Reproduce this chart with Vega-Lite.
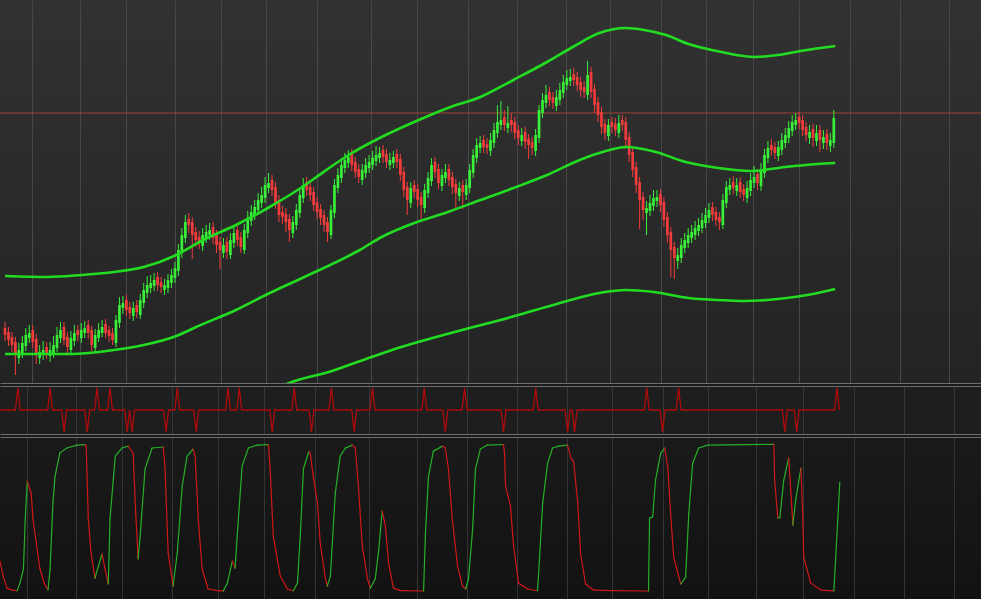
{
"$schema": "https://vega.github.io/schema/vega-lite/v6.json",
"background": "#1b1b1b",
"padding": 0,
"spacing": 3,
"bounds": "flush",
"config": {"view": {"stroke": null}, "axis": {"labels": false, "ticks": false, "domain": false, "minExtent": 0, "maxExtent": 0, "offset": 0, "labelPadding": 0, "tickSize": 0, "titlePadding": 0}},
"datasets": {
"candles": [
{"i":0,"o":105.5,"h":106.1,"l":104.2,"c":104.8},{"i":1,"o":105.1,"h":105.6,"l":103.7,"c":104.3},{"i":2,"o":104.6,"h":105.1,"l":103.1,"c":103.8},{"i":3,"o":104.1,"h":104.6,"l":100.8,"c":102.8},{"i":4,"o":102.5,"h":104.0,"l":101.9,"c":103.3},{"i":5,"o":103.0,"h":104.7,"l":102.5,"c":104.0},{"i":6,"o":103.7,"h":105.5,"l":103.2,"c":104.8},{"i":7,"o":104.5,"h":105.8,"l":104.0,"c":105.0},{"i":8,"o":105.3,"h":105.8,"l":103.5,"c":104.1},{"i":9,"o":104.4,"h":104.9,"l":101.9,"c":102.8},
{"i":10,"o":102.5,"h":103.8,"l":101.9,"c":103.1},{"i":11,"o":102.8,"h":104.2,"l":102.3,"c":103.3},{"i":12,"o":103.6,"h":104.1,"l":102.4,"c":103.0},{"i":13,"o":102.7,"h":104.1,"l":102.1,"c":103.3},{"i":14,"o":103.0,"h":104.7,"l":102.5,"c":103.8},{"i":15,"o":103.5,"h":105.6,"l":103.1,"c":104.8},{"i":16,"o":104.5,"h":106.1,"l":104.0,"c":105.3},{"i":17,"o":105.6,"h":106.1,"l":103.8,"c":104.3},{"i":18,"o":104.6,"h":105.1,"l":103.0,"c":103.6},{"i":19,"o":103.3,"h":105.2,"l":102.8,"c":104.5},
{"i":20,"o":104.2,"h":105.8,"l":103.7,"c":105.0},{"i":21,"o":105.3,"h":105.8,"l":104.2,"c":104.8},{"i":22,"o":104.5,"h":106.0,"l":104.0,"c":105.3},{"i":23,"o":105.0,"h":106.2,"l":104.5,"c":105.5},{"i":24,"o":105.8,"h":106.3,"l":104.4,"c":105.0},{"i":25,"o":105.3,"h":105.7,"l":103.2,"c":103.8},{"i":26,"o":103.5,"h":105.4,"l":103.1,"c":104.8},{"i":27,"o":104.5,"h":106.0,"l":104.1,"c":105.3},{"i":28,"o":105.0,"h":106.3,"l":104.6,"c":105.6},{"i":29,"o":105.9,"h":106.4,"l":104.5,"c":105.0},
{"i":30,"o":105.3,"h":105.7,"l":104.1,"c":104.7},{"i":31,"o":105.0,"h":105.5,"l":103.8,"c":104.3},{"i":32,"o":104.0,"h":106.8,"l":103.6,"c":106.3},{"i":33,"o":106.0,"h":108.6,"l":105.5,"c":107.8},{"i":34,"o":107.5,"h":108.7,"l":106.9,"c":108.0},{"i":35,"o":108.3,"h":108.8,"l":106.7,"c":107.3},{"i":36,"o":107.6,"h":108.1,"l":106.4,"c":107.0},{"i":37,"o":106.7,"h":108.1,"l":106.2,"c":107.5},{"i":38,"o":107.8,"h":108.3,"l":106.5,"c":107.1},{"i":39,"o":106.8,"h":108.9,"l":106.4,"c":108.3},
{"i":40,"o":108.0,"h":110.0,"l":107.5,"c":109.3},{"i":41,"o":109.0,"h":110.7,"l":108.5,"c":109.8},{"i":42,"o":109.5,"h":110.8,"l":109.0,"c":110.0},{"i":43,"o":109.7,"h":111.0,"l":109.2,"c":110.3},{"i":44,"o":110.6,"h":111.1,"l":109.2,"c":109.8},{"i":45,"o":110.1,"h":110.6,"l":109.0,"c":109.6},{"i":46,"o":109.3,"h":110.4,"l":108.8,"c":109.8},{"i":47,"o":109.5,"h":110.9,"l":109.0,"c":110.3},{"i":48,"o":110.0,"h":111.4,"l":109.5,"c":110.8},{"i":49,"o":110.5,"h":112.1,"l":110.0,"c":111.5},
{"i":50,"o":111.2,"h":113.9,"l":110.7,"c":113.3},{"i":51,"o":113.0,"h":115.5,"l":112.5,"c":114.8},{"i":52,"o":114.5,"h":116.8,"l":114.0,"c":116.1},{"i":53,"o":116.4,"h":117.0,"l":115.0,"c":115.8},{"i":54,"o":116.1,"h":116.6,"l":112.4,"c":114.8},{"i":55,"o":115.1,"h":115.6,"l":113.6,"c":114.3},{"i":56,"o":114.6,"h":115.2,"l":113.4,"c":114.0},{"i":57,"o":113.7,"h":115.5,"l":113.2,"c":114.8},{"i":58,"o":114.5,"h":115.8,"l":114.0,"c":115.1},{"i":59,"o":114.8,"h":116.0,"l":114.3,"c":115.3},
{"i":60,"o":115.6,"h":116.1,"l":113.9,"c":114.5},{"i":61,"o":114.8,"h":115.3,"l":113.0,"c":113.8},{"i":62,"o":114.1,"h":114.6,"l":111.4,"c":113.3},{"i":63,"o":113.0,"h":114.5,"l":112.5,"c":113.8},{"i":64,"o":114.1,"h":114.6,"l":112.4,"c":113.1},{"i":65,"o":112.8,"h":115.0,"l":112.4,"c":114.3},{"i":66,"o":114.0,"h":115.7,"l":113.5,"c":115.0},{"i":67,"o":115.3,"h":115.8,"l":113.7,"c":114.3},{"i":68,"o":114.6,"h":115.1,"l":113.0,"c":113.6},{"i":69,"o":113.3,"h":115.9,"l":112.9,"c":115.3},
{"i":70,"o":115.0,"h":117.2,"l":114.5,"c":116.5},{"i":71,"o":116.2,"h":117.8,"l":115.7,"c":117.1},{"i":72,"o":116.8,"h":118.3,"l":116.3,"c":117.6},{"i":73,"o":117.3,"h":119.0,"l":116.8,"c":118.3},{"i":74,"o":118.0,"h":119.6,"l":117.5,"c":118.8},{"i":75,"o":118.5,"h":120.6,"l":118.0,"c":119.8},{"i":76,"o":119.5,"h":121.0,"l":119.0,"c":120.0},{"i":77,"o":120.3,"h":120.8,"l":118.7,"c":119.3},{"i":78,"o":119.6,"h":120.1,"l":117.4,"c":118.0},{"i":79,"o":118.3,"h":118.8,"l":116.1,"c":116.8},
{"i":80,"o":117.1,"h":117.7,"l":115.9,"c":116.6},{"i":81,"o":116.9,"h":117.5,"l":115.1,"c":116.1},{"i":82,"o":116.4,"h":116.9,"l":114.1,"c":115.3},{"i":83,"o":115.0,"h":116.7,"l":114.5,"c":116.1},{"i":84,"o":115.8,"h":117.9,"l":115.3,"c":117.3},{"i":85,"o":117.0,"h":119.4,"l":116.5,"c":118.8},{"i":86,"o":118.5,"h":120.5,"l":118.0,"c":119.8},{"i":87,"o":120.1,"h":120.6,"l":118.7,"c":119.3},{"i":88,"o":119.6,"h":120.1,"l":118.2,"c":118.8},{"i":89,"o":119.1,"h":119.6,"l":117.2,"c":117.8},
{"i":90,"o":118.1,"h":118.6,"l":116.4,"c":117.1},{"i":91,"o":117.4,"h":117.9,"l":115.8,"c":116.5},{"i":92,"o":116.8,"h":117.3,"l":115.1,"c":115.8},{"i":93,"o":116.1,"h":116.6,"l":114.1,"c":115.1},{"i":94,"o":114.8,"h":117.8,"l":114.4,"c":117.3},{"i":95,"o":117.0,"h":120.4,"l":116.5,"c":119.8},{"i":96,"o":119.5,"h":121.5,"l":119.0,"c":120.8},{"i":97,"o":120.5,"h":122.5,"l":120.0,"c":121.8},{"i":98,"o":121.5,"h":123.0,"l":121.0,"c":122.3},{"i":99,"o":122.0,"h":123.3,"l":121.5,"c":122.6},
{"i":100,"o":122.9,"h":123.4,"l":121.2,"c":121.8},{"i":101,"o":122.1,"h":122.6,"l":120.5,"c":121.1},{"i":102,"o":121.4,"h":121.9,"l":120.0,"c":120.6},{"i":103,"o":120.3,"h":121.9,"l":119.8,"c":121.3},{"i":104,"o":121.0,"h":122.5,"l":120.5,"c":121.8},{"i":105,"o":121.5,"h":122.8,"l":121.0,"c":122.1},{"i":106,"o":121.8,"h":123.2,"l":121.3,"c":122.5},{"i":107,"o":122.2,"h":123.7,"l":121.7,"c":122.8},{"i":108,"o":122.5,"h":123.6,"l":122.0,"c":123.0},{"i":109,"o":123.3,"h":123.8,"l":122.0,"c":122.6},
{"i":110,"o":122.9,"h":123.4,"l":121.5,"c":122.1},{"i":111,"o":121.8,"h":123.0,"l":121.3,"c":122.3},{"i":112,"o":122.0,"h":123.2,"l":121.5,"c":122.6},{"i":113,"o":122.9,"h":123.4,"l":121.5,"c":122.1},{"i":114,"o":122.4,"h":122.9,"l":120.2,"c":120.8},{"i":115,"o":121.1,"h":121.6,"l":118.6,"c":119.3},{"i":116,"o":119.6,"h":120.1,"l":116.8,"c":118.3},{"i":117,"o":118.0,"h":120.1,"l":117.5,"c":119.5},{"i":118,"o":119.8,"h":120.3,"l":118.5,"c":119.1},{"i":119,"o":119.4,"h":119.9,"l":117.6,"c":118.3},
{"i":120,"o":118.6,"h":119.1,"l":116.4,"c":117.8},{"i":121,"o":117.5,"h":119.9,"l":117.0,"c":119.3},{"i":122,"o":119.0,"h":121.1,"l":118.5,"c":120.5},{"i":123,"o":120.2,"h":122.5,"l":119.7,"c":121.8},{"i":124,"o":122.1,"h":122.6,"l":120.5,"c":121.1},{"i":125,"o":121.4,"h":121.9,"l":119.4,"c":120.0},{"i":126,"o":119.7,"h":121.4,"l":119.2,"c":120.8},{"i":127,"o":120.5,"h":121.9,"l":120.0,"c":121.1},{"i":128,"o":121.4,"h":121.9,"l":119.7,"c":120.3},{"i":129,"o":120.6,"h":121.1,"l":118.9,"c":119.6},
{"i":130,"o":119.9,"h":120.4,"l":117.4,"c":119.0},{"i":131,"o":118.7,"h":120.1,"l":118.2,"c":119.5},{"i":132,"o":119.8,"h":120.3,"l":117.4,"c":119.1},{"i":133,"o":118.8,"h":120.4,"l":118.3,"c":119.8},{"i":134,"o":119.5,"h":121.9,"l":119.0,"c":121.3},{"i":135,"o":121.0,"h":123.4,"l":120.5,"c":122.8},{"i":136,"o":122.5,"h":124.5,"l":122.0,"c":123.8},{"i":137,"o":123.5,"h":124.7,"l":123.0,"c":124.0},{"i":138,"o":124.3,"h":124.8,"l":123.0,"c":123.6},{"i":139,"o":123.9,"h":124.5,"l":122.9,"c":123.5},
{"i":140,"o":123.2,"h":125.0,"l":122.7,"c":124.3},{"i":141,"o":124.0,"h":126.0,"l":123.5,"c":125.3},{"i":142,"o":125.0,"h":127.8,"l":124.5,"c":126.1},{"i":143,"o":125.8,"h":128.2,"l":125.3,"c":126.3},{"i":144,"o":126.6,"h":127.3,"l":125.2,"c":125.8},{"i":145,"o":125.5,"h":127.7,"l":125.0,"c":126.0},{"i":146,"o":126.3,"h":127.0,"l":125.1,"c":125.8},{"i":147,"o":126.1,"h":126.6,"l":124.4,"c":125.0},{"i":148,"o":125.3,"h":125.8,"l":123.8,"c":124.5},{"i":149,"o":124.2,"h":125.5,"l":123.7,"c":124.8},
{"i":150,"o":125.1,"h":125.6,"l":123.4,"c":124.1},{"i":151,"o":124.4,"h":124.9,"l":122.4,"c":123.8},{"i":152,"o":124.1,"h":124.6,"l":122.8,"c":123.5},{"i":153,"o":123.2,"h":125.4,"l":122.7,"c":124.8},{"i":154,"o":124.5,"h":127.8,"l":124.0,"c":127.3},{"i":155,"o":127.0,"h":129.0,"l":126.5,"c":128.3},{"i":156,"o":128.0,"h":129.8,"l":127.5,"c":128.8},{"i":157,"o":129.1,"h":129.6,"l":127.7,"c":128.3},{"i":158,"o":128.6,"h":129.1,"l":127.4,"c":128.0},{"i":159,"o":127.7,"h":129.3,"l":127.2,"c":128.6},
{"i":160,"o":128.3,"h":130.0,"l":127.8,"c":129.3},{"i":161,"o":129.0,"h":130.8,"l":128.5,"c":130.1},{"i":162,"o":129.8,"h":131.3,"l":129.3,"c":130.5},{"i":163,"o":130.2,"h":131.4,"l":129.7,"c":130.6},{"i":164,"o":130.9,"h":131.5,"l":129.7,"c":130.3},{"i":165,"o":130.6,"h":131.1,"l":129.2,"c":129.8},{"i":166,"o":130.1,"h":130.6,"l":128.6,"c":129.3},{"i":167,"o":129.6,"h":130.2,"l":128.5,"c":129.1},{"i":168,"o":128.8,"h":132.2,"l":128.3,"c":130.8},{"i":169,"o":131.1,"h":131.6,"l":128.5,"c":129.1},
{"i":170,"o":129.4,"h":129.9,"l":127.0,"c":127.8},{"i":171,"o":128.1,"h":128.6,"l":126.1,"c":126.8},{"i":172,"o":127.1,"h":127.6,"l":124.9,"c":125.6},{"i":173,"o":125.9,"h":126.4,"l":124.3,"c":125.0},{"i":174,"o":124.7,"h":126.4,"l":124.2,"c":125.8},{"i":175,"o":126.1,"h":126.6,"l":125.0,"c":125.6},{"i":176,"o":125.9,"h":126.5,"l":124.7,"c":125.3},{"i":177,"o":125.0,"h":126.8,"l":124.5,"c":126.0},{"i":178,"o":126.3,"h":126.8,"l":125.2,"c":125.8},{"i":179,"o":126.1,"h":126.6,"l":123.7,"c":124.3},
{"i":180,"o":124.6,"h":125.1,"l":122.1,"c":122.8},{"i":181,"o":123.1,"h":123.6,"l":120.6,"c":121.3},{"i":182,"o":121.6,"h":122.1,"l":119.0,"c":119.8},{"i":183,"o":120.1,"h":120.6,"l":115.4,"c":118.3},{"i":184,"o":118.6,"h":119.1,"l":116.3,"c":117.3},{"i":185,"o":117.0,"h":118.2,"l":114.8,"c":117.5},{"i":186,"o":117.2,"h":118.8,"l":116.7,"c":118.0},{"i":187,"o":117.7,"h":119.3,"l":117.2,"c":118.5},{"i":188,"o":118.2,"h":119.3,"l":117.6,"c":118.6},{"i":189,"o":118.9,"h":119.4,"l":117.1,"c":117.8},
{"i":190,"o":118.1,"h":118.6,"l":115.6,"c":116.3},{"i":191,"o":116.6,"h":117.1,"l":114.0,"c":114.8},{"i":192,"o":115.1,"h":115.6,"l":110.6,"c":113.3},{"i":193,"o":113.6,"h":114.1,"l":110.4,"c":112.5},{"i":194,"o":112.2,"h":113.5,"l":111.4,"c":112.8},{"i":195,"o":112.5,"h":114.5,"l":112.0,"c":113.8},{"i":196,"o":113.5,"h":115.0,"l":113.0,"c":114.3},{"i":197,"o":114.0,"h":115.5,"l":113.5,"c":114.8},{"i":198,"o":114.5,"h":115.8,"l":114.0,"c":115.1},{"i":199,"o":114.8,"h":116.2,"l":114.3,"c":115.5},
{"i":200,"o":115.2,"h":116.5,"l":114.7,"c":115.8},{"i":201,"o":115.5,"h":117.0,"l":115.0,"c":116.3},{"i":202,"o":116.0,"h":117.5,"l":115.5,"c":116.8},{"i":203,"o":116.5,"h":118.0,"l":116.0,"c":117.3},{"i":204,"o":117.6,"h":118.1,"l":116.2,"c":116.8},{"i":205,"o":117.1,"h":117.6,"l":115.7,"c":116.3},{"i":206,"o":116.6,"h":117.1,"l":115.3,"c":116.1},{"i":207,"o":115.8,"h":118.9,"l":115.4,"c":118.3},{"i":208,"o":118.0,"h":120.2,"l":117.5,"c":119.6},{"i":209,"o":119.3,"h":120.5,"l":118.8,"c":119.8},
{"i":210,"o":120.1,"h":120.7,"l":118.9,"c":119.5},{"i":211,"o":119.2,"h":120.5,"l":118.7,"c":119.8},{"i":212,"o":120.1,"h":120.6,"l":118.5,"c":119.1},{"i":213,"o":119.4,"h":119.9,"l":118.2,"c":118.8},{"i":214,"o":118.5,"h":120.2,"l":118.0,"c":119.5},{"i":215,"o":119.2,"h":121.0,"l":118.7,"c":120.3},{"i":216,"o":120.0,"h":121.7,"l":119.5,"c":120.6},{"i":217,"o":120.9,"h":121.4,"l":119.3,"c":120.0},{"i":218,"o":119.7,"h":122.0,"l":119.2,"c":121.3},{"i":219,"o":121.0,"h":123.4,"l":120.5,"c":122.8},
{"i":220,"o":122.5,"h":124.2,"l":122.0,"c":123.5},{"i":221,"o":123.8,"h":124.4,"l":122.7,"c":123.3},{"i":222,"o":123.6,"h":124.1,"l":122.4,"c":123.0},{"i":223,"o":122.7,"h":124.2,"l":122.2,"c":123.6},{"i":224,"o":123.3,"h":125.0,"l":122.8,"c":124.3},{"i":225,"o":124.0,"h":125.5,"l":123.5,"c":124.8},{"i":226,"o":124.5,"h":126.2,"l":124.0,"c":125.5},{"i":227,"o":125.2,"h":126.8,"l":124.7,"c":126.1},{"i":228,"o":125.8,"h":127.0,"l":125.3,"c":126.3},{"i":229,"o":126.6,"h":127.1,"l":125.4,"c":126.0},
{"i":230,"o":126.3,"h":126.8,"l":124.7,"c":125.3},{"i":231,"o":125.6,"h":126.1,"l":124.2,"c":124.8},{"i":232,"o":124.5,"h":125.8,"l":123.9,"c":125.1},{"i":233,"o":125.4,"h":125.9,"l":123.6,"c":124.5},{"i":234,"o":124.2,"h":125.8,"l":123.7,"c":125.0},{"i":235,"o":125.3,"h":125.8,"l":123.1,"c":124.3},{"i":236,"o":124.0,"h":125.3,"l":123.4,"c":124.6},{"i":237,"o":124.9,"h":125.4,"l":123.3,"c":124.0},{"i":238,"o":123.7,"h":125.0,"l":123.1,"c":124.3},{"i":239,"o":124.0,"h":127.3,"l":123.5,"c":126.5}
],
"bands": [
{"b":"u","t":0,"p":110.7},{"b":"u","t":12.3,"p":110.6},{"b":"u","t":22,"p":110.8},{"b":"u","t":31.4,"p":111.1},{"b":"u","t":40,"p":111.6},{"b":"u","t":49.4,"p":112.8},{"b":"u","t":57.1,"p":114.3},{"b":"u","t":66.6,"p":115.8},{"b":"u","t":76.3,"p":117.6},{"b":"u","t":85.7,"p":119.6},{"b":"u","t":89.4,"p":120.5},{"b":"u","t":99.1,"p":122.8},{"b":"u","t":108.6,"p":124.6},{"b":"u","t":118,"p":126.1},{"b":"u","t":127.7,"p":127.5},{"b":"u","t":137.1,"p":128.6},{"b":"u","t":146.6,"p":130.3},{"b":"u","t":156.3,"p":132.1},{"b":"u","t":163.7,"p":133.6},{"b":"u","t":171.4,"p":135.0},{"b":"u","t":179.1,"p":135.5},{"b":"u","t":184.3,"p":135.3},{"b":"u","t":190.6,"p":134.8},{"b":"u","t":197.1,"p":133.9},{"b":"u","t":206.6,"p":133.1},{"b":"u","t":216.3,"p":132.6},{"b":"u","t":222.9,"p":132.8},{"b":"u","t":229.4,"p":133.2},{"b":"u","t":239.4,"p":133.7},
{"b":"m","t":0,"p":102.9},{"b":"m","t":19.1,"p":102.9},{"b":"m","t":31.4,"p":103.3},{"b":"m","t":40,"p":103.8},{"b":"m","t":49.4,"p":104.7},{"b":"m","t":55.1,"p":105.6},{"b":"m","t":66.6,"p":107.3},{"b":"m","t":76.3,"p":109.0},{"b":"m","t":85.7,"p":110.5},{"b":"m","t":102.3,"p":113.3},{"b":"m","t":108.6,"p":114.6},{"b":"m","t":118,"p":116.0},{"b":"m","t":127.7,"p":117.1},{"b":"m","t":137.1,"p":118.3},{"b":"m","t":146.6,"p":119.5},{"b":"m","t":156.3,"p":120.8},{"b":"m","t":165.7,"p":122.3},{"b":"m","t":172.3,"p":123.1},{"b":"m","t":179.1,"p":123.6},{"b":"m","t":187.7,"p":123.1},{"b":"m","t":196.3,"p":122.1},{"b":"m","t":205.7,"p":121.5},{"b":"m","t":215.1,"p":121.2},{"b":"m","t":224.9,"p":121.6},{"b":"m","t":234.3,"p":121.9},{"b":"m","t":239.4,"p":122.0},
{"b":"d","t":74.3,"p":98.8},{"b":"d","t":82,"p":100.0},{"b":"d","t":94.3,"p":101.2},{"b":"d","t":105.7,"p":102.6},{"b":"d","t":114.3,"p":103.6},{"b":"d","t":128.6,"p":105.0},{"b":"d","t":142.9,"p":106.3},{"b":"d","t":157.1,"p":107.7},{"b":"d","t":171.4,"p":109.0},{"b":"d","t":179.1,"p":109.3},{"b":"d","t":187.1,"p":109.1},{"b":"d","t":197.1,"p":108.5},{"b":"d","t":205.7,"p":108.3},{"b":"d","t":212.9,"p":108.2},{"b":"d","t":222.9,"p":108.4},{"b":"d","t":231.4,"p":108.8},{"b":"d","t":239.4,"p":109.4}
],
"spikes": [
{"t":0,"s":0},{"t":4.4,"s":0},{"t":5.1,"s":1},{"t":5.8,"s":0},{"t":13.6,"s":0},{"t":14.3,"s":1},{"t":15,"s":0},{"t":17.6,"s":0},{"t":18.3,"s":-1},{"t":19,"s":0},{"t":24.2,"s":0},{"t":24.9,"s":-1},{"t":25.6,"s":0},{"t":27,"s":0},{"t":27.7,"s":1},{"t":28.4,"s":0},{"t":30.7,"s":0},{"t":31.4,"s":1},{"t":32.1,"s":0},{"t":35.6,"s":0},{"t":36.3,"s":-1},{"t":37,"s":0},{"t":37.7,"s":-1},{"t":38.4,"s":0},{"t":46.7,"s":0},{"t":47.4,"s":-1},{"t":48.1,"s":0},{"t":49.9,"s":0},{"t":50.6,"s":1},{"t":51.3,"s":0},{"t":55.3,"s":0},{"t":56,"s":-1},{"t":56.7,"s":0},{"t":64.4,"s":0},{"t":65.1,"s":1},{"t":65.8,"s":0},{"t":67.6,"s":0},{"t":68.3,"s":1},{"t":69,"s":0},{"t":77,"s":0},{"t":77.7,"s":-1},{"t":78.4,"s":0},{"t":83.3,"s":0},{"t":84,"s":1},{"t":84.7,"s":0},{"t":88.2,"s":0},{"t":88.9,"s":-1},{"t":89.6,"s":0},{"t":93.9,"s":0},{"t":94.6,"s":1},{"t":95.3,"s":0},{"t":100.4,"s":0},{"t":101.1,"s":-1},{"t":101.8,"s":0},{"t":105.6,"s":0},{"t":106.3,"s":1},{"t":107,"s":0},{"t":120.4,"s":0},{"t":121.1,"s":1},{"t":121.8,"s":0},{"t":126.4,"s":0},{"t":127.1,"s":-1},{"t":127.8,"s":0},{"t":131.9,"s":0},{"t":132.6,"s":1},{"t":133.3,"s":0},{"t":143,"s":0},{"t":143.7,"s":-1},{"t":144.4,"s":0},{"t":152.2,"s":0},{"t":152.9,"s":1},{"t":153.6,"s":0},{"t":161.3,"s":0},{"t":162,"s":-1},{"t":162.7,"s":0},{"t":163.3,"s":0},{"t":164,"s":-1},{"t":164.7,"s":0},{"t":183.9,"s":0},{"t":184.6,"s":1},{"t":185.3,"s":0},{"t":188.4,"s":0},{"t":189.1,"s":-1},{"t":189.8,"s":0},{"t":193,"s":0},{"t":193.7,"s":1},{"t":194.4,"s":0},{"t":223.3,"s":0},{"t":224,"s":-1},{"t":224.7,"s":0},{"t":226.7,"s":0},{"t":227.4,"s":-1},{"t":228.1,"s":0},{"t":238.2,"s":0},{"t":238.9,"s":1},{"t":239.6,"s":0}
],
"osc": [
{"t":0,"k":20.4},{"t":0.9,"k":10.2},{"t":2,"k":2},{"t":3.4,"k":0.7},{"t":4.9,"k":0.2},{"t":5.7,"k":5.4},{"t":6.7,"k":15},{"t":7.2,"k":49},{"t":7.8,"k":74.8},{"t":8.9,"k":66.7},{"t":9.4,"k":49},{"t":11.4,"k":15},{"t":12.6,"k":5.4},{"t":13.7,"k":0.7},{"t":14.3,"k":15},{"t":15.1,"k":60},{"t":15.7,"k":78},{"t":17.1,"k":94},{"t":19.1,"k":97.3},{"t":22,"k":99.3},{"t":24.3,"k":99.6},{"t":24.6,"k":98.5},{"t":25.2,"k":49},{"t":26,"k":25.9},{"t":27.1,"k":8.8},{"t":29.1,"k":25.2},{"t":30,"k":15},{"t":30.9,"k":4.8},{"t":31.4,"k":49},{"t":32.9,"k":91.8},{"t":34.8,"k":97.3},{"t":36.6,"k":98.6},{"t":38,"k":93.9},{"t":38.6,"k":60},{"t":39.4,"k":21.8},{"t":40,"k":37.4},{"t":41.4,"k":83},{"t":43.4,"k":97.3},{"t":46.6,"k":98},{"t":47.1,"k":83},{"t":48,"k":25.9},{"t":49.4,"k":3.4},{"t":50.6,"k":25.9},{"t":52,"k":71.4},{"t":53.4,"k":91.8},{"t":55.1,"k":96.6},{"t":55.7,"k":91.8},{"t":56.6,"k":49},{"t":57.7,"k":15},{"t":59.4,"k":1.4},{"t":62,"k":0.3},{"t":63.7,"k":0.1},{"t":64.9,"k":5.4},{"t":66.3,"k":20.4},{"t":67.1,"k":15.6},{"t":67.7,"k":37.4},{"t":69.1,"k":85},{"t":70.9,"k":97.3},{"t":73.4,"k":99.3},{"t":76.6,"k":99.6},{"t":77.1,"k":83},{"t":78,"k":37.4},{"t":80,"k":10.2},{"t":82,"k":1.4},{"t":83.7,"k":0.2},{"t":84.9,"k":5.4},{"t":85.7,"k":37.4},{"t":86.6,"k":83},{"t":88,"k":93.9},{"t":88.3,"k":95},{"t":88.6,"k":93},{"t":89.4,"k":78},{"t":90.6,"k":60},{"t":91.4,"k":32.7},{"t":92.9,"k":8.2},{"t":93.4,"k":3.4},{"t":94.3,"k":10.2},{"t":95.7,"k":66.7},{"t":97.1,"k":91.8},{"t":98.6,"k":97.3},{"t":100.6,"k":99.3},{"t":101.4,"k":97.3},{"t":102.3,"k":71.4},{"t":103.4,"k":30.6},{"t":104.9,"k":8.2},{"t":105.7,"k":2},{"t":107.1,"k":8.2},{"t":108,"k":25.9},{"t":109.1,"k":54.4},{"t":110,"k":44.2},{"t":110.9,"k":19},{"t":112.3,"k":2},{"t":114.3,"k":0.3},{"t":120.9,"k":0.05},{"t":121.4,"k":37.4},{"t":122.3,"k":78},{"t":123.7,"k":95.2},{"t":126.3,"k":98.6},{"t":127.1,"k":97.3},{"t":128,"k":83},{"t":129.1,"k":49},{"t":130.6,"k":17},{"t":132,"k":3.4},{"t":132.9,"k":1.4},{"t":133.7,"k":8.2},{"t":134.9,"k":42},{"t":135.7,"k":83},{"t":137.1,"k":96.6},{"t":139.1,"k":99.3},{"t":143.7,"k":99.7},{"t":144,"k":93.9},{"t":144.3,"k":71.4},{"t":145.7,"k":57.8},{"t":146.6,"k":30.6},{"t":148,"k":5.4},{"t":150.6,"k":1.4},{"t":153.4,"k":0.2},{"t":153.7,"k":10.2},{"t":154.9,"k":60},{"t":156.3,"k":87},{"t":157.7,"k":97.3},{"t":159.4,"k":98.6},{"t":162,"k":99.3},{"t":162.3,"k":96.6},{"t":163.1,"k":89.8},{"t":163.7,"k":88.4},{"t":164.9,"k":60},{"t":165.7,"k":25.9},{"t":167.1,"k":4.8},{"t":169.4,"k":0.7},{"t":174.3,"k":0.3},{"t":185.1,"k":0.05},{"t":185.4,"k":49.7},{"t":186.3,"k":50.5},{"t":187.1,"k":75.5},{"t":188.6,"k":93.9},{"t":189.7,"k":97.3},{"t":190.6,"k":84.4},{"t":191.4,"k":53},{"t":192.3,"k":23},{"t":194.3,"k":4.8},{"t":195.7,"k":9.5},{"t":196.6,"k":53},{"t":197.7,"k":87},{"t":199.4,"k":97.3},{"t":202,"k":99.3},{"t":220.9,"k":99.8},{"t":221.1,"k":75.5},{"t":222,"k":49.7},{"t":222.6,"k":50},{"t":223.7,"k":75.5},{"t":225.1,"k":90.5},{"t":225.7,"k":68.7},{"t":226.3,"k":44.9},{"t":227.1,"k":61.9},{"t":228.6,"k":83.7},{"t":229.1,"k":53},{"t":229.4,"k":23},{"t":231.4,"k":5.4},{"t":234.3,"k":0.7},{"t":238,"k":0.1},{"t":239.7,"k":74}
],
"levels": [{"level":127.0}]
},
"vconcat": [
{
"width": 981, "height": 383,
"view": {"stroke": null, "fill": {"gradient":"linear","x1":0,"y1":0,"x2":0,"y2":1,"stops":[{"offset":0,"color":"#323232"},{"offset":1,"color":"#232323"}]}},
"layer": [
{"data":{"name":"levels"},"mark":{"type":"rule","color":"#a04236","strokeWidth":1,"clip":true},
 "encoding":{"y":{"field":"level","type":"quantitative","scale":{"domain":[100,138.3],"nice":false,"zero":false},"axis":{"grid":true,"values":[100],"gridColor":"#6e6e6e","gridOpacity":1,"title":null}}}},
{"data":{"name":"candles"},"mark":{"type":"rule","strokeWidth":1,"clip":true},
 "encoding":{"x":{"field":"i","type":"quantitative","scale":{"domain":[0,280],"nice":false,"zero":false},"axis":{"grid":true,"values":[7.7,21.7,34.9,49.1,62.3,75.4,90,105.4,118.9,133.4,147.7,161.7,174.6,189.1,202,215.7,229.1,243.7,258,272.3],"gridColor":"#474747","gridOpacity":1,"title":null}},
 "y":{"field":"l","type":"quantitative","title":null},"y2":{"field":"h"},
 "color":{"condition":{"test":"datum.c >= datum.o","value":"#38f038"},"value":"#f23c3c"}}},
{"data":{"name":"candles"},"mark":{"type":"bar","size":2.7,"clip":true},
 "encoding":{"x":{"field":"i","type":"quantitative","title":null},"y":{"field":"o","type":"quantitative","title":null},"y2":{"field":"c"},
 "color":{"condition":{"test":"datum.c >= datum.o","value":"#38f038"},"value":"#f23c3c"}}},
{"data":{"name":"bands"},"mark":{"type":"line","interpolate":"monotone","color":"#22dc22","strokeWidth":2.6,"clip":true},
 "encoding":{"x":{"field":"t","type":"quantitative","title":null},"y":{"field":"p","type":"quantitative","title":null},"detail":{"field":"b"}}}
]
},
{
"width": 981, "height": 48,
"view": {"stroke": null, "fill": "#1e1e1e"},
"data": {"name":"spikes"},
"mark": {"type":"line","color":"#b00a0a","strokeWidth":1.3,"clip":true},
"encoding": {
 "x":{"field":"t","type":"quantitative","scale":{"domain":[0,280],"nice":false,"zero":false},"axis":{"grid":true,"values":[7.7,21.7,34.9,49.1,62.3,75.4,90,105.4,118.9,133.4,147.7,161.7,174.6,189.1,202,215.7,229.1,243.7,258,272.3],"gridColor":"#363636","gridOpacity":1,"title":null}},
 "y":{"field":"s","type":"quantitative","scale":{"domain":[-1.09,1.09],"nice":false,"zero":false},"axis":{"grid":true,"values":[-1.07,1.07],"gridColor":"#6e6e6e","gridOpacity":1,"title":null}}
}
},
{
"width": 981, "height": 162,
"view": {"stroke": null, "fill": {"gradient":"linear","x1":0,"y1":0,"x2":0,"y2":1,"stops":[{"offset":0,"color":"#1a1a1a"},{"offset":1,"color":"#121212"}]}},
"data": {"name":"osc"},
"transform": [
 {"window":[{"op":"lag","field":"k","as":"pk"},{"op":"lag","field":"t","as":"pt"}],"sort":[{"field":"t"}]},
 {"filter":"datum.pt != null"}
],
"mark": {"type":"rule","strokeWidth":1.2,"strokeCap":"round","clip":true},
"encoding": {
 "x":{"field":"pt","type":"quantitative","scale":{"domain":[0,280],"nice":false,"zero":false},"axis":{"grid":true,"values":[7.7,21.7,34.9,49.1,62.3,75.4,90,105.4,118.9,133.4,147.7,161.7,174.6,189.1,202,215.7,229.1,243.7,258,272.3],"gridColor":"#343434","gridOpacity":1,"title":null}},
 "x2":{"field":"t"},
 "y":{"field":"pk","type":"quantitative","scale":{"domain":[-5.4,104.8],"nice":false,"zero":false},"axis":{"grid":true,"values":[104.5],"gridColor":"#6e6e6e","gridOpacity":1,"title":null}},
 "y2":{"field":"k"},
 "color":{"condition":{"test":"datum.k >= datum.pk","value":"#27b027"},"value":"#d01818"}
}
}
]
}
